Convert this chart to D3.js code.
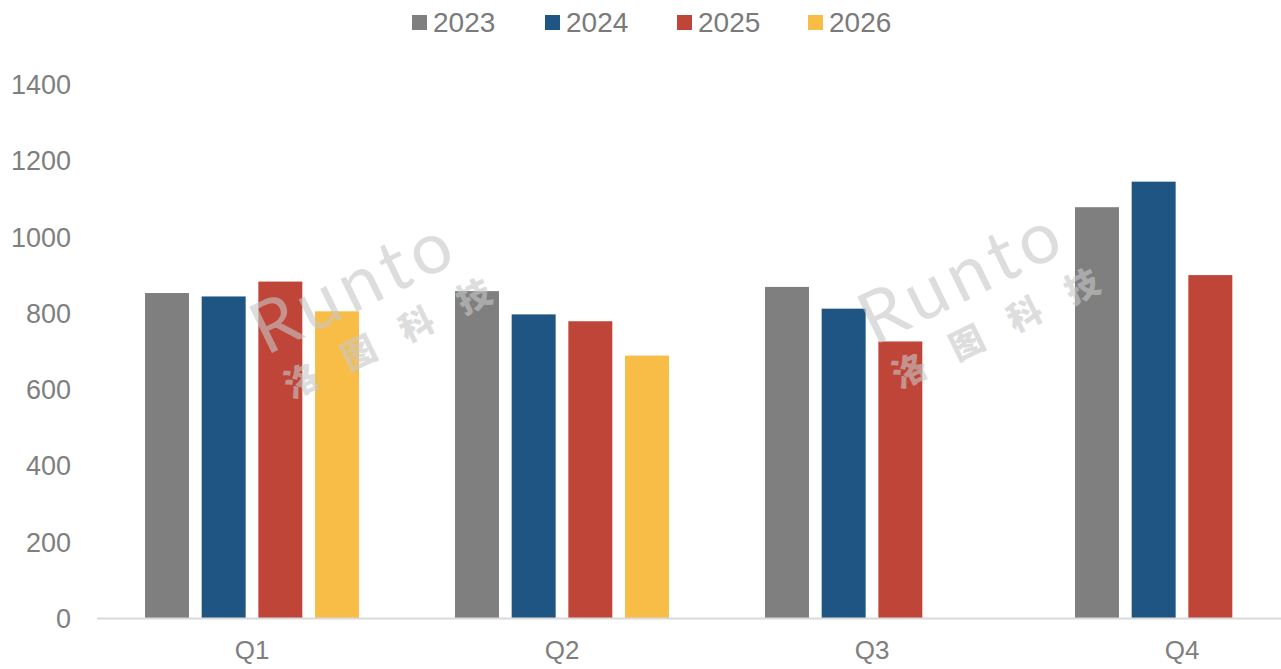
<!DOCTYPE html>
<html>
<head>
<meta charset="utf-8">
<script src="https://cdn.jsdelivr.net/npm/d3@7"></script>
<style>
  body { margin: 0; background: #fff; }
  svg text { font-family: "Liberation Sans", Arial, sans-serif; fill: #7f7f7f; }
</style>
</head>
<body>
<div id="chart"></div>
<script>

// data
var quarters = ["Q1", "Q2", "Q3", "Q4"];
var years = ["2023", "2024", "2025", "2026"];
var s2023 = [852, 857, 868, 1077];
var s2024 = [843, 796, 811, 1144];
var s2025 = [882, 778, 725, 899];
var s2026 = [804, 688, null, null];
var yTicks = [0, 200, 400, 600, 800, 1000, 1200, 1400];
var colors = ["#7f7f7f", "#1f5582", "#bf4538", "#f7bd47"];

var series = [s2023, s2024, s2025, s2026];

var width = 1281, height = 669;

var svg = d3.select("#chart").append("svg")
  .attr("width", width)
  .attr("height", height);

// scales
var y = d3.scaleLinear()
  .domain([0, 1400])
  .range([618, 84]);

// plot area runs past the right edge (picture is cropped)
var x = d3.scaleBand()
  .domain(quarters)
  .range([97, 1337]);

var xInner = d3.scaleBand()
  .domain(years)
  .range([48, x.bandwidth() - 48])
  .paddingInner(0.224);

var color = d3.scaleOrdinal()
  .domain(years)
  .range(colors);

// flatten into one list of bars
var bars = [];
quarters.forEach(function(q, i) {
  years.forEach(function(yr, j) {
    if (series[j][i] != null) bars.push({q: q, year: yr, value: series[j][i]});
  });
});

svg.append("g")
  .selectAll("rect")
  .data(bars)
  .enter().append("rect")
    .attr("x", function(d) { return x(d.q) + xInner(d.year); })
    .attr("y", function(d) { return y(d.value); })
    .attr("width", xInner.bandwidth())
    .attr("height", function(d) { return y(0) - y(d.value); })
    .style("fill", function(d) { return color(d.year); });

// baseline
svg.append("line")
  .attr("x1", 97)
  .attr("x2", width)
  .attr("y1", y(0) + 0.5)
  .attr("y2", y(0) + 0.5)
  .style("stroke", "#d9d9d9")
  .style("stroke-width", 2);

// y axis labels (no axis line, no ticks)
var yAxis = d3.axisLeft(y)
  .tickValues(yTicks)
  .tickFormat(d3.format("d"))
  .tickSize(0)
  .tickPadding(0);

var yGuide = svg.append("g")
  .attr("transform", "translate(71,0)")
  .call(yAxis);
yGuide.select(".domain").remove();
yGuide.selectAll("text")
  .attr("dy", "0.35em")
  .style("font-size", "27px")
  .style("fill", "#7f7f7f");

// x axis labels
var xAxis = d3.axisBottom(x)
  .tickSize(0)
  .tickPadding(0);

var xGuide = svg.append("g")
  .attr("transform", "translate(0,650)")
  .call(xAxis);
xGuide.select(".domain").remove();
xGuide.selectAll("text")
  .attr("dy", "0.35em")
  .attr("y", 0)
  .style("font-size", "26px")
  .style("fill", "#7f7f7f");

// watermark
function watermark(cx, cy) {
  var g = svg.append("g")
    .attr("transform", "translate(" + cx + "," + cy + ") rotate(-26)")
    .style("opacity", 0.6)
    .style("pointer-events", "none");
  g.append("text")
    .attr("x", 0)
    .attr("y", 0)
    .style("font-family", "Lato, sans-serif")
    .style("font-weight", 400)
    .style("font-size", "72px")
    .style("letter-spacing", "6px")
    .style("fill", "#c8c8c8")
    .text("Runto");
  g.append("text")
    .attr("x", 4)
    .attr("y", 50)
    .style("font-family", "'Noto Sans CJK SC', sans-serif")
    .style("font-weight", 900)
    .style("font-size", "34px")
    .style("letter-spacing", "30px")
    .style("fill", "#c8c8c8")
    .text("洛图科技");
}
watermark(266, 356);
watermark(874, 346);

// legend
var legendX = [412, 545, 677, 808];
var legend = svg.append("g");
years.forEach(function(yr, i) {
  legend.append("rect")
    .attr("x", legendX[i])
    .attr("y", 15)
    .attr("width", 15)
    .attr("height", 15)
    .style("fill", color(yr));
  legend.append("text")
    .attr("x", legendX[i] + 21)
    .attr("y", 22)
    .attr("dy", "0.35em")
    .style("font-size", "28px")
    .style("fill", "#7a7a7a")
    .text(yr);
});

</script>
</body>
</html>
